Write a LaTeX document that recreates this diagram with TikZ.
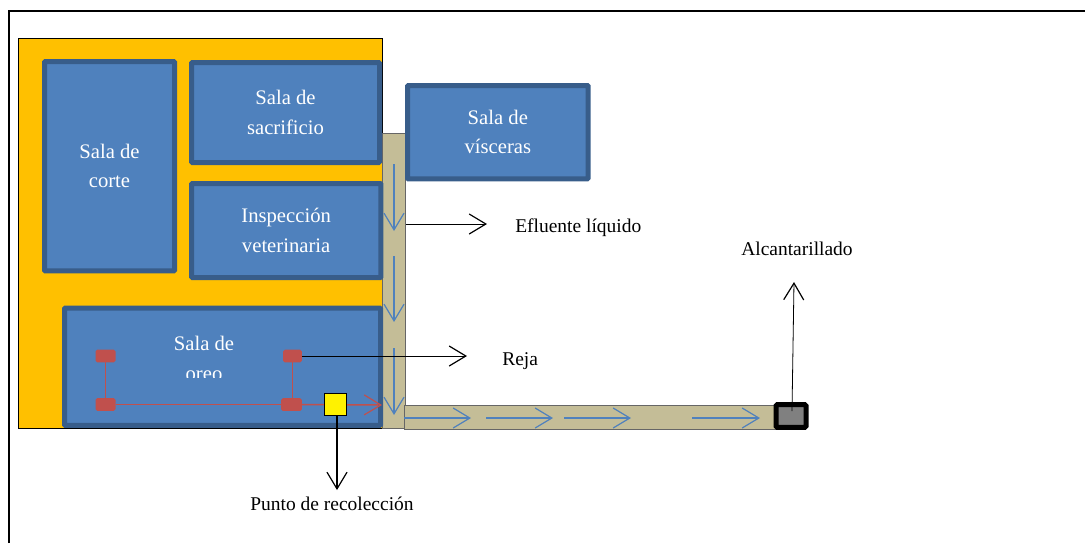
\documentclass[tikz,border=0pt]{standalone}
\usepackage{fontspec}
\setmainfont{Liberation Serif}
\usetikzlibrary{arrows.meta}
\definecolor{roomfill}{HTML}{4F81BD}
\definecolor{roomline}{HTML}{385D8A}
\definecolor{ambar}{HTML}{FFC000}
\definecolor{canal}{HTML}{C4BD97}
\definecolor{rejared}{HTML}{C0504D}
\tikzset{
  every picture/.style={line join=miter},
  room/.style={draw=roomline,fill=roomfill,line width=3.75pt,rounded corners=0.6pt,inner sep=0pt,outer sep=0pt,anchor=north west,text=white,align=center,font=\fontsize{15.5}{22}\selectfont},
  label/.style={inner sep=0pt,text=black,font=\fontsize{14.6}{18}\selectfont},
  barb/.style={-{Straight Barb[length=12.5pt,width=15pt,line width=0.9pt]}},
  flow/.style={draw=roomfill,line width=1.1pt,barb},
  thin arrow/.style={draw=black,line width=0.6pt,barb},
  rejanode/.style={fill=rejared,rounded corners=1.2pt,inner sep=0pt,outer sep=0pt,minimum height=9.4pt},
  rejaline/.style={draw=rejared,line width=1.1pt},
}
\begin{document}
\begin{tikzpicture}[x=0.75pt,y=-0.75pt]
\useasboundingbox (0,0) rectangle (1085,543);
% frame
\coordinate (fa) at (9,543); \coordinate (fb) at (9,11); \coordinate (fc) at (1085,11);
\draw[line width=1.5pt] (fa) -- (fb) -- (fc);
% site
\node[draw=black,fill=ambar,line width=0.6pt,inner sep=0pt,anchor=north west,minimum width=273pt,minimum height=292.5pt] (site) at (18,37.5) {};
% channels
\node[draw=black!60,fill=canal,line width=0.6pt,inner sep=0pt,anchor=north west,minimum width=17pt,minimum height=221.5pt] (canalv) at (382,133) {};
\node[draw=black!60,fill=canal,line width=0.6pt,inner sep=0pt,anchor=north west,minimum width=278pt,minimum height=18pt] (canalh) at (404,405) {};
% rooms
\node[room,minimum width=97.5pt,minimum height=157pt] (corte) at (44.5,61.5) {Sala de\\corte};
\node[room,minimum width=141pt,minimum height=75pt] (sacrificio) at (191.5,62.5) {Sala de\\sacrificio};
\node[room,minimum width=142pt,minimum height=70.5pt] (inspeccion) at (191.5,183.5) {Inspección\\veterinaria};
\node[room,minimum width=237pt,minimum height=88pt] (oreo) at (64.5,308) {};
\begin{scope}
\clip (62,300) rectangle (385,377);
\node[inner sep=0pt,text=white,align=center,font=\fontsize{15.5}{22}\selectfont] (oreotext) at (204,358.5) {Sala de\\oreo};
\end{scope}
\node[room,minimum width=135.5pt,minimum height=70pt] (visceras) at (407.5,85.5) {Sala de\\vísceras};
% flow arrows
\coordinate (v1a) at (394,164); \coordinate (v1b) at (394,231);
\coordinate (v2a) at (394,256); \coordinate (v2b) at (394,322);
\coordinate (v3a) at (394,348); \coordinate (v3b) at (394,415);
\coordinate (h1a) at (404,418); \coordinate (h1b) at (471,418);
\coordinate (h2a) at (486,418); \coordinate (h2b) at (553,418);
\coordinate (h3a) at (564,418); \coordinate (h3b) at (631,418);
\coordinate (h4a) at (692,418); \coordinate (h4b) at (760,418);
\foreach \s in {v1,v2,v3,h1,h2,h3,h4} \draw[flow] (\s a) -- (\s b);
% grating
\node[rejanode,minimum width=15pt] (r1) at (105.5,356) {};
\node[rejanode,minimum width=15pt] (r2) at (105.5,404.5) {};
\node[rejanode,minimum width=14pt] (r3) at (292.5,356) {};
\node[rejanode,minimum width=15.5pt] (r4) at (291.5,404.5) {};
\coordinate (rend) at (382,405);
\draw[rejaline] (r1) -- (r2);
\draw[rejaline] (r3.south) -- (r3.south |- r4.north);
\draw[rejaline] (r2) -- (r4);
\draw[rejaline,barb] (r4) -- (rend);
% collection point
\node[draw=black,fill=yellow,line width=0.75pt,inner sep=0pt,minimum size=16.5pt] (punto) at (335.5,404.5) {};
\node[label] (puntotxt) at (332,504) {Punto de recolección};
\coordinate (ptip) at (337,490);
\draw[draw=black,line width=1.5pt,barb] (punto.south -| ptip) -- (ptip);
% labels
\node[label,anchor=west] (efl) at (515,228) {Efluente líquido};
\coordinate (ea) at (406,224); \coordinate (eb) at (487,224);
\draw[thin arrow] (ea) -- (eb);
\node[label,anchor=west] (rej) at (502,361) {Reja};
\coordinate (rb) at (467,356);
\draw[thin arrow] (r3.east) -- (rb);
% sewer
\node[draw=black,fill=black!50,line width=3.75pt,rounded corners=1pt,inner sep=0pt,minimum width=22.5pt,minimum height=17pt] (sewer) at (791,416) {};
\node[label] (alc) at (797,249) {Alcantarillado};
\coordinate (sa) at (792,411); \coordinate (sb) at (794,282);
\draw[thin arrow] (sa) -- (sb);
\end{tikzpicture}
\end{document}
